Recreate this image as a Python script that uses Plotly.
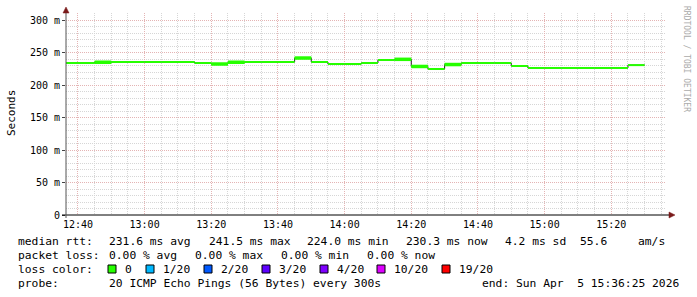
import plotly.graph_objects as go
from datetime import datetime, timedelta

# ---------------- data ----------------
slot_start = ["12:35", "12:40", "12:45", "12:50", "12:55", "13:00", "13:05", "13:10",
              "13:15", "13:20", "13:25", "13:30", "13:35", "13:40", "13:45", "13:50",
              "13:55", "14:00", "14:05", "14:10", "14:15", "14:20", "14:25", "14:30",
              "14:35", "14:40", "14:45", "14:50", "14:55", "15:00", "15:05", "15:10",
              "15:15", "15:20", "15:25"]
median_ms = [233.8, 233.8, 235.0, 235.4, 235.4, 235.4, 235.4, 235.4,
             233.8, 232.3, 235.0, 235.4, 235.4, 235.4, 241.5, 235.4,
             232.3, 232.3, 233.8, 238.5, 239.5, 228.5, 224.6, 231.5,
             233.8, 233.8, 233.8, 229.2, 226.2, 226.2, 226.2, 226.2,
             226.2, 226.2, 230.6]
wide_slots = [2, 9, 10, 14, 20, 21, 23]

y_ticks = [0, 50, 100, 150, 200, 250, 300]
y_tick_text = ["0", "50 m", "100 m", "150 m", "200 m", "250 m", "300 m"]

loss_labels = ["0", "1/20", "2/20", "3/20", "4/20", "10/20", "19/20"]
loss_colors = ["#26ff00", "#00b8ff", "#0059ff", "#5e00ff", "#7e00ff", "#dd00ff", "#ff0000"]

DAY = "2026-04-05 "
STEP = timedelta(minutes=5)

# ---------------- layout geometry ----------------
W, H = 697, 297
L, R, T, B = 66, 31, 13, 82
PW = W - L - R
PH = H - T - B
Y_MAX = PH / 0.65


def px(x):
    return (x - L) / PW


def py(y):
    return (H - B - y) / PH


def nb(s):
    return s.replace(" ", "\u00a0")


starts = [datetime.strptime(DAY + s, "%Y-%m-%d %H:%M") for s in slot_start]
ends = [t + STEP for t in starts]

fig = go.Figure()

# dark step connectors
sx = starts + [ends[-1]]
sy = median_ms + [median_ms[-1]]
fig.add_trace(go.Scatter(x=sx, y=sy, mode="lines", line=dict(shape="hv", color="#222222", width=1),
                         hoverinfo="skip", showlegend=False))

# green horizontal segments
gx, gy = [], []
for t0, t1, v in zip(starts, ends, median_ms):
    gx += [t0, t1, None]
    gy += [v, v, None]
fig.add_trace(go.Scatter(x=gx, y=gy, mode="lines", line=dict(color=loss_colors[0], width=2),
                         hoverinfo="skip", showlegend=False))

wx, wy = [], []
for i in wide_slots:
    wx += [starts[i], ends[i], None]
    wy += [median_ms[i], median_ms[i], None]
fig.add_trace(go.Scatter(x=wx, y=wy, mode="lines", line=dict(color=loss_colors[0], width=3.5),
                         hoverinfo="skip", showlegend=False))

MONO = "DejaVu Sans Mono"
major_grid = "#e4b4b4"
minor_grid = "#d6d6d6"

fig.update_layout(
    width=W, height=H,
    margin=dict(l=L, r=R, t=T, b=B),
    paper_bgcolor="white", plot_bgcolor="white",
    font=dict(family=MONO, size=10, color="black"),
    showlegend=False,
    xaxis=dict(
        type="date",
        range=[DAY + "12:36:25", DAY + "15:36:25"],
        tickformat="%H:%M", tick0=DAY + "12:40", dtick=20 * 60 * 1000,
        showgrid=True, gridcolor=major_grid, griddash="1px,1px", gridwidth=1,
        minor=dict(dtick=5 * 60 * 1000, tick0=DAY + "12:40", showgrid=True,
                   gridcolor=minor_grid, griddash="1px,1px"),
        showline=False, zeroline=False, ticks="", ticklabelstandoff=2,
        tickfont=dict(family=MONO, size=10, color="black"),
    ),
    yaxis=dict(
        range=[0, Y_MAX],
        tickvals=y_ticks, ticktext=y_tick_text,
        showgrid=True, gridcolor=major_grid, griddash="1px,1px", gridwidth=1,
        minor=dict(dtick=10, showgrid=True, gridcolor=minor_grid, griddash="1px,1px"),
        showline=False, zeroline=False, ticks="outside", ticklen=3, tickcolor="#444444",
        tickfont=dict(family=MONO, size=10, color="black"),
    ),
)

shapes = []
# axes
shapes.append(dict(type="line", xref="paper", yref="paper", x0=px(62), x1=px(670), y0=0, y1=0,
                   line=dict(color="black", width=1), layer="above"))
shapes.append(dict(type="line", xref="paper", yref="paper", x0=0, x1=0, y0=py(218), y1=py(11),
                   line=dict(color="#555555", width=1), layer="above"))
# arrows
arrow_col = "#7a1a1a"
shapes.append(dict(type="path", xref="paper", yref="paper",
                   path=f"M {px(669)} {py(212)} L {px(675)} {py(215)} L {px(669)} {py(218)} Z",
                   fillcolor=arrow_col, line=dict(color=arrow_col, width=0.5), layer="above"))
shapes.append(dict(type="path", xref="paper", yref="paper",
                   path=f"M {px(63)} {py(13)} L {px(66)} {py(7)} L {px(69)} {py(13)} Z",
                   fillcolor=arrow_col, line=dict(color=arrow_col, width=0.5), layer="above"))

annotations = []
LEG = 11.3


def txt(x, y, s, size=LEG, color="black", **kw):
    annotations.append(dict(xref="paper", yref="paper", x=px(x), y=py(y), text=nb(s),
                            showarrow=False, xanchor="left", yanchor="middle",
                            font=dict(family=MONO, size=size, color=color), **kw))


# y axis title
annotations.append(dict(xref="paper", yref="paper", x=px(11), y=py(113), text="Seconds",
                        showarrow=False, xanchor="center", yanchor="middle", textangle=-90,
                        font=dict(family=MONO, size=11, color="black")))
# watermark
annotations.append(dict(xref="paper", yref="paper", x=px(686), y=py(59), text=nb("RRDTOOL / TOBI OETIKER"),
                        showarrow=False, xanchor="center", yanchor="middle", textangle=90,
                        font=dict(family=MONO, size=8, color="#aaaaaa")))

# legend line 1
y1 = 241.5
txt(16, y1, "median rtt:")
txt(107, y1, "231.6 ms avg")
txt(207, y1, "241.5 ms max")
txt(305, y1, "224.0 ms min")
txt(404, y1, "230.3 ms now")
txt(503, y1, "4.2 ms sd")
txt(578, y1, "55.6")
txt(636, y1, "am/s")
# line 2
y2 = 255
txt(16, y2, "packet loss:")
txt(107, y2, "0.00 % avg")
txt(193, y2, "0.00 % max")
txt(279, y2, "0.00 % min")
txt(365, y2, "0.00 % now")
# line 3
y3 = 269
txt(16, y3, "loss color:")
box_x = [108, 146, 204, 262, 320, 377, 442]
for bx, lab, col in zip(box_x, loss_labels, loss_colors):
    shapes.append(dict(type="rect", xref="paper", yref="paper", x0=px(bx), x1=px(bx + 8),
                       y0=py(y3 - 4), y1=py(y3 + 4), fillcolor=col,
                       line=dict(color="black", width=1), layer="above"))
    txt(bx + 15, y3, lab)
# line 4
y4 = 283
txt(16, y4, "probe:")
txt(107, y4, "20 ICMP Echo Pings (56 Bytes) every 300s")
txt(480, y4, "end: Sun Apr  5 15:36:25 2026")

fig.update_layout(shapes=shapes, annotations=annotations)

fig.write_html("out.html")
